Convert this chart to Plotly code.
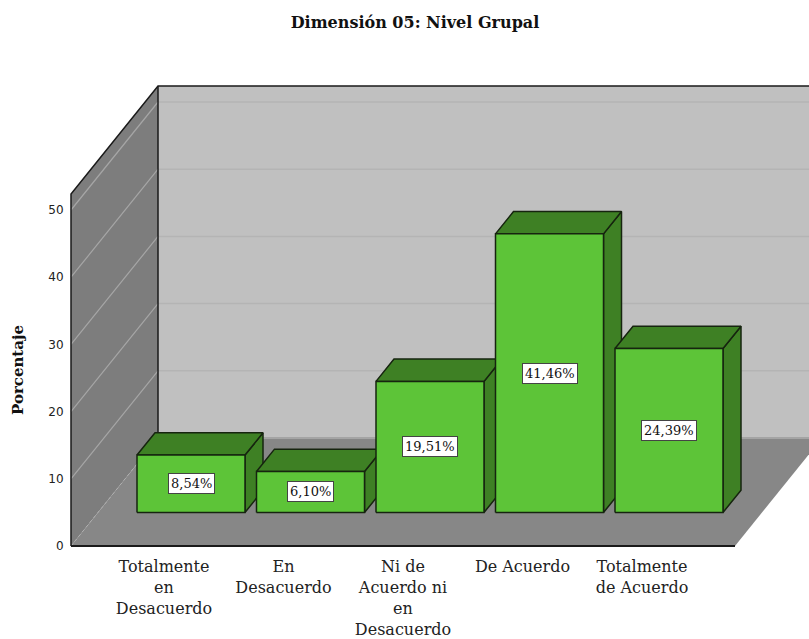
import plotly.graph_objects as go

# Data
CATEGORIES = ["Totalmente<br>en<br>Desacuerdo", "En<br>Desacuerdo",
              "Ni de<br>Acuerdo ni<br>en<br>Desacuerdo", "De Acuerdo",
              "Totalmente<br>de Acuerdo"]
VALUES = [8.54, 6.10, 19.51, 41.46, 24.39]
Y_TICKS = [0, 10, 20, 30, 40, 50]
TITLE = "Dimensión 05: Nivel Grupal"
Y_TITLE = "Porcentaje"

# Scale / projection
W, H = 809, 639
PX_X, PX_Y = 119.5, 6.72          # px per category, px per percent
X0_PX, Y0_PX = 164.0, 546.0       # pixel of category 0 and of value 0
L_PX, T_PX, B_PX = 70, 80, 551
DX, DY = 87 / PX_X, 108 / PX_Y    # full depth of the box in axis units
BOX_L, BOX_R, BOX_T = (71 - X0_PX) / PX_X, (735 - X0_PX) / PX_X, (546 - 194) / PX_Y
HALF = 54 / PX_X
D_FRONT, D_BACK = 27 / 87, 45 / 87

xr = [(L_PX - X0_PX) / PX_X, (W - X0_PX) / PX_X]
yr = [(Y0_PX - B_PX) / PX_Y, (Y0_PX - T_PX) / PX_Y]
FAR = xr[1] + 0.02

C_BACK, C_WALL, C_FLOOR = "#c0c0c0", "#7d7d7d", "#878787"
C_FRONT, C_DARK, C_EDGE = "#5dc438", "#3e8024", "#16240f"
C_LINE = "#1a1a1a"

fig = go.Figure()


def poly(xs, ys, fill, line=None, w=1.5):
    fig.add_trace(go.Scatter(x=xs, y=ys, mode="lines", fill="toself" if fill else None,
                             fillcolor=fill, line=dict(color=line or "rgba(0,0,0,0)", width=w),
                             hoverinfo="skip", showlegend=False))


def seg(xs, ys, color, w=1.5, dash="solid"):
    fig.add_trace(go.Scatter(x=xs, y=ys, mode="lines", line=dict(color=color, width=w, dash=dash),
                             hoverinfo="skip", showlegend=False))


# Back wall, left wall, floor
bl = BOX_L + DX
poly([bl, FAR, FAR, bl], [DY, DY, BOX_T + DY, BOX_T + DY], C_BACK)
poly([BOX_L, bl, bl, BOX_L], [0, DY, BOX_T + DY, BOX_T], C_WALL)
poly([BOX_L, BOX_R, BOX_R + DX, bl], [0, 0, DY, DY], C_FLOOR)

# Gridlines
for t in Y_TICKS[1:]:
    seg([BOX_L, bl], [t, t + DY], "#a6a6a6", 1.2)
    seg([bl, FAR], [t + DY, t + DY], "#b4b4b4", 1.5)
seg([BOX_L, bl], [0, DY], "#b0b0b0", 1, "dot")
seg([bl, FAR], [DY, DY], "#a4a4a4", 2)

# Frame
seg([BOX_L, BOX_L, bl, FAR], [0, BOX_T, BOX_T + DY, BOX_T + DY], C_LINE, 1.5)
seg([bl, bl], [DY, BOX_T + DY], C_LINE, 1.5)
seg([BOX_L, BOX_R], [0, 0], C_LINE, 2)

# Bars
annotations = []
for i, v in enumerate(VALUES):
    x0 = i - HALF + D_FRONT * DX
    x1 = i + HALF + D_FRONT * DX
    y0 = D_FRONT * DY
    y1 = y0 + v
    ox, oy = (D_BACK - D_FRONT) * DX, (D_BACK - D_FRONT) * DY
    poly([x1, x1 + ox, x1 + ox, x1, x1], [y0, y0 + oy, y1 + oy, y1, y0], C_DARK, C_EDGE)
    poly([x0, x1, x1 + ox, x0 + ox, x0], [y1, y1, y1 + oy, y1 + oy, y1], C_DARK, C_EDGE)
    poly([x0, x1, x1, x0, x0], [y0, y0, y1, y1, y0], C_FRONT, C_EDGE)
    annotations.append(dict(x=(x0 + x1) / 2, y=(y0 + y1) / 2, xref="x", yref="y",
                            text=f"{v:.2f}%".replace(".", ","), showarrow=False,
                            font=dict(family="DejaVu Serif", size=13, color="#111111"),
                            bgcolor="#ffffff", bordercolor="#444444", borderwidth=1, borderpad=2))

annotations.append(dict(x=(18 - L_PX) / (W - L_PX), xref="paper", xanchor="center",
                        y=(Y0_PX - 370) / PX_Y, yref="y", yanchor="middle",
                        text=f"<b>{Y_TITLE}</b>", textangle=-90, showarrow=False,
                        font=dict(family="DejaVu Serif", size=15, color="#111111")))

fig.update_layout(
    width=W, height=H, margin=dict(l=L_PX, r=0, t=T_PX, b=H - B_PX),
    paper_bgcolor="#ffffff", plot_bgcolor="#ffffff", showlegend=False,
    title=dict(text=f"<b>{TITLE}</b>", x=415 / W, xanchor="center", y=1 - 22 / H, yanchor="middle",
               font=dict(family="DejaVu Serif", size=16, color="#111111")),
    xaxis=dict(range=xr, tickmode="array", tickvals=list(range(len(CATEGORIES))), ticktext=CATEGORIES,
               tickangle=0, ticks="outside", ticklen=1, tickcolor="rgba(0,0,0,0)", showgrid=False,
               zeroline=False, showline=False, automargin=False,
               tickfont=dict(family="DejaVu Serif", size=16, color="#222222")),
    yaxis=dict(range=yr, tickmode="array", tickvals=Y_TICKS, ticks="outside", ticklen=3, tickwidth=1,
               tickcolor="rgba(0,0,0,0)", showgrid=False, zeroline=False, showline=False, automargin=False,
               tickfont=dict(family="DejaVu Sans", size=12, color="#222222")),
    annotations=annotations,
)

fig.write_html("out.html", config=dict(displayModeBar=False),
               post_script="document.body.style.margin='0';document.documentElement.style.overflow='hidden';")
